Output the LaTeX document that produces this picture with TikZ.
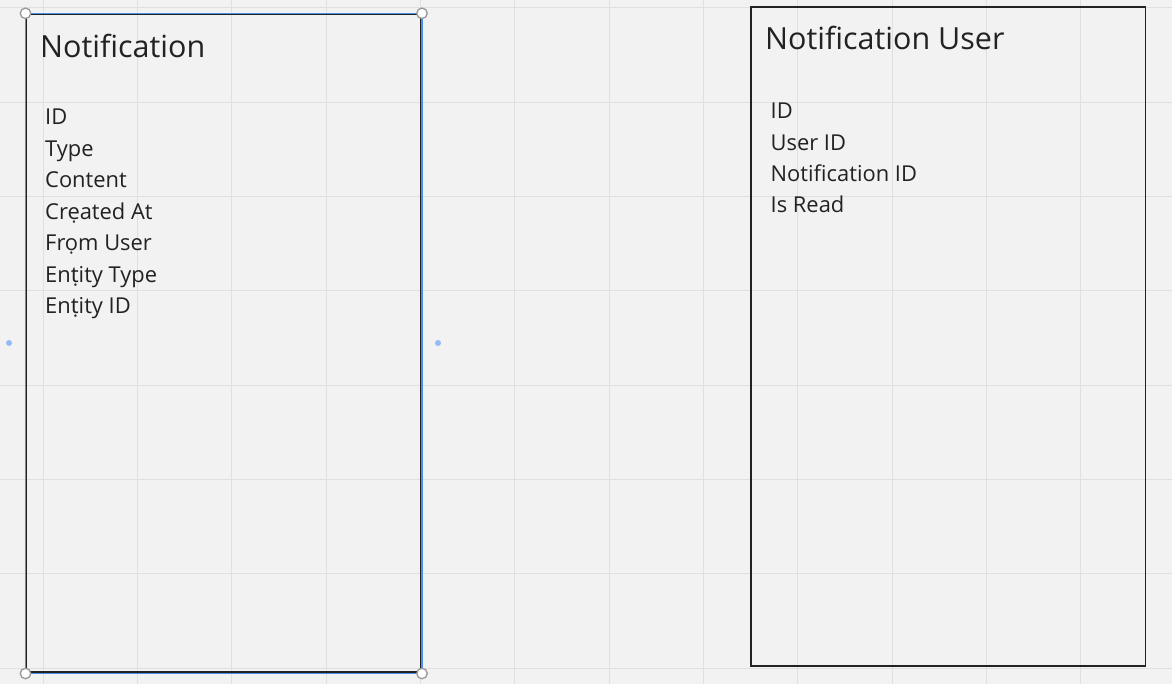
\documentclass[tikz,border=0pt]{standalone}
\usepackage{fontspec}
\setmainfont{Open Sans}
\newfontfamily\notofont{Noto Sans}
\usetikzlibrary{positioning}
\usetikzlibrary{backgrounds}
\definecolor{canvas}{HTML}{F2F2F2}
\definecolor{gridgray}{HTML}{E0E0E0}
\definecolor{inkdark}{HTML}{222222}
\definecolor{selblue}{HTML}{4A8FEA}
\definecolor{dotblue}{HTML}{93BCF5}
\begin{document}
\begin{tikzpicture}[x=1pt, y=-1pt]


\tikzstyle{entity_style} = [draw=inkdark, line width=1.8, fill=none]

\tikzstyle{title_style} = [anchor=base west, inner sep=0pt, text=inkdark, font=\fontsize{30.5}{36}\selectfont]

\tikzstyle{field_style} = [anchor=base west, inner sep=0pt, text=inkdark, font=\fontsize{21.9}{26}\selectfont]

\tikzstyle{handle_style} = [circle, draw=gray!80, fill=white, line width=1.3, inner sep=0pt, minimum size=10.5]

\tikzstyle{dot_style} = [circle, fill=dotblue, inner sep=0pt, minimum size=6]


\fill[canvas] (0,0) rectangle (1172,684);
\useasboundingbox (0,0) rectangle (1172,684);

% grid
\foreach \gx in {43.3,137.6,231.9,326.2,420.5,514.8,609.1,703.4,797.7,892.0,986.3,1080.6}
  \draw[gridgray, line width=1] (\gx,0) -- (\gx,684);
\foreach \gy in {8,102.3,196.6,290.9,385.2,479.5,573.8,668.1}
  \draw[gridgray, line width=1] (0,\gy) -- (1172,\gy);

% entity boxes
\coordinate (n_tl) at (25.8,14.5);
\coordinate (n_br) at (420.5,672);
\draw[entity_style] (n_tl) rectangle (n_br);

\coordinate (u_tl) at (751,7);
\coordinate (u_br) at (1145.5,666);
\draw[entity_style] (u_tl) rectangle (u_br);

% selection
\coordinate (s_tl) at (25.5,13.3);
\coordinate (s_tr) at (422,13.3);
\coordinate (s_bl) at (25.5,673.5);
\coordinate (s_br) at (422,673.5);
\draw[selblue, line width=1.5] (s_tl) -- (s_tr) -- (s_br) -- (s_bl) -- cycle;

\node[handle_style] (h1) at (s_tl) {};
\node[handle_style] (h2) at (s_tr) {};
\node[handle_style] (h3) at (s_bl) {};
\node[handle_style] (h4) at (s_br) {};

\node[dot_style] (d1) at (9,343) {};
\node[dot_style] (d2) at (438,343) {};

% Notification
\node[title_style] (notif) at (40,57.5) {Notification};

\node[field_style] (n0) at (45,125) {ID};
\node[field_style] (n1) at (45,156.5) {Type};
\node[field_style] (n2) at (45,188) {Content};
\node[field_style] (n3) at (45,219.5) {Crẹated At};
\node[field_style] (n4) at (45,251) {Frọm User};
\node[field_style] (n5) at (45,282.5) {En{\notofont ṭ}ity Type};
\node[field_style] (n6) at (45,314) {En{\notofont ṭ}ity ID};

% Notification User
\node[title_style] (nuser) at (765,50) {Notification User};

\node[field_style] (u0) at (770.5,119) {ID};
\node[field_style] (u1) at (770.5,150.3) {User ID};
\node[field_style] (u2) at (770.5,181.6) {Notification ID};
\node[field_style] (u3) at (770.5,212.9) {Is Read};


\end{tikzpicture}
\end{document}
